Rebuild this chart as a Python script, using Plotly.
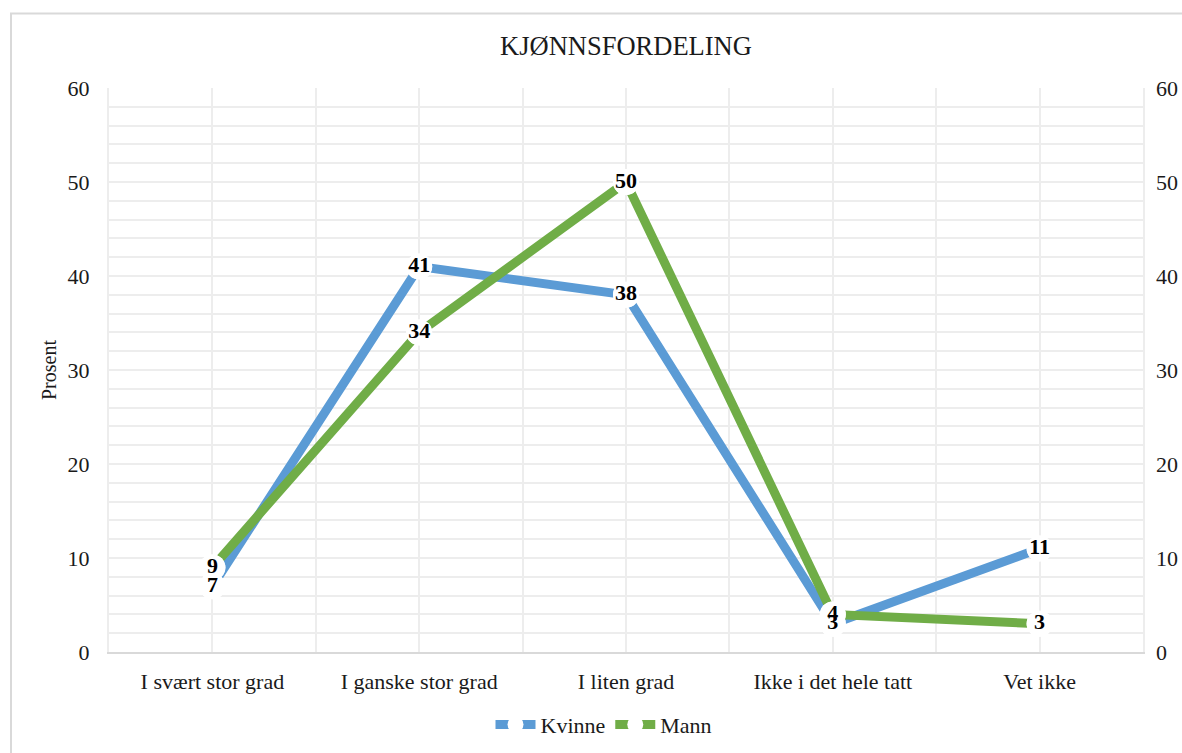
import plotly.graph_objects as go

categories = ["I svært stor grad", "I ganske stor grad", "I liten grad", "Ikke i det hele tatt", "Vet ikke"]
kvinne = [7, 41, 38, 3, 11]
mann = [9, 34, 50, 4, 3]
y_ticks = [0, 10, 20, 30, 40, 50, 60]

BLUE = "#5B9BD5"
GREEN = "#70AD47"
GRID = "#EDEDED"
FONT = "Liberation Serif, Times New Roman, serif"
TXT = "#1a1a1a"

S = 1182 / 1190  # observed capture scale
W, H = 1190, 758
def px(v):
    return v / S
L = px(108)
T = px(87)
R = W - px(1142)
B = H - px(654)
PW, PH = W - L - R, H - T - B

x = list(range(len(categories)))

fig = go.Figure()

# lines (with legend)
for name, vals, col in [("Kvinne", kvinne, BLUE), ("Mann", mann, GREEN)]:
    fig.add_trace(go.Scatter(
        x=x, y=vals, name=name, mode="lines+markers",
        line=dict(color=col, width=9),
        marker=dict(size=26, color="white", line=dict(width=0)),
        hoverinfo="skip",
    ))

# white label backgrounds drawn on top of all lines
for vals in [kvinne, mann]:
    fig.add_trace(go.Scatter(
        x=x, y=vals, mode="markers", showlegend=False,
        marker=dict(size=26, color="white", line=dict(width=0)),
        hoverinfo="skip",
    ))

# labels drawn last
for vals in [kvinne, mann]:
    fig.add_trace(go.Scatter(
        x=x, y=vals, mode="text", showlegend=False,
        text=[str(v) for v in vals], textposition="middle center",
        textfont=dict(family=FONT, size=22, color="black", weight="bold"),
        hoverinfo="skip",
    ))

# invisible trace on right axis
fig.add_trace(go.Scatter(x=x, y=kvinne, yaxis="y2", mode="lines",
                         line=dict(width=0), showlegend=False, hoverinfo="skip", opacity=0))

fig.update_layout(
    width=W, height=H,
    margin=dict(l=L, r=R, t=T, b=B),
    paper_bgcolor="white", plot_bgcolor="white",
    font=dict(family=FONT, size=22, color=TXT),
    title=dict(text="KJØNNSFORDELING", x=0.5, xref="paper", xanchor="center",
               y=1 - px(45) / H, yref="container", yanchor="middle",
               font=dict(family=FONT, size=26.5, color=TXT)),
    showlegend=True,
    legend=dict(orientation="h", x=(px(603) - L) / PW, xanchor="center",
                y=-(px(727) - px(654)) / PH, yanchor="middle", itemwidth=40,
                font=dict(family=FONT, size=22, color=TXT), bgcolor="rgba(0,0,0,0)"),
    xaxis=dict(
        range=[-0.5, 4.5], tickmode="array", tickvals=x, ticktext=categories,
        showgrid=True, gridcolor=GRID, gridwidth=2,
        minor=dict(tickmode="linear", tick0=-0.5, dtick=0.5, showgrid=True, gridcolor=GRID, gridwidth=2),
        showline=True, linecolor="#D9D9D9", linewidth=2,
        ticks="", ticklabelstandoff=9, zeroline=False,
        tickfont=dict(family=FONT, size=22, color=TXT),
    ),
    yaxis=dict(
        range=[0, 60], tickmode="array", tickvals=y_ticks,
        showgrid=True, gridcolor=GRID, gridwidth=2,
        minor=dict(dtick=2, showgrid=True, gridcolor=GRID, gridwidth=2),
        showline=True, linecolor=GRID, linewidth=2, mirror=True,
        ticks="", ticklabelstandoff=13, zeroline=False,
        title=dict(text="Prosent", font=dict(family=FONT, size=20, color=TXT), standoff=6),
        tickfont=dict(family=FONT, size=22, color=TXT),
    ),
    yaxis2=dict(
        range=[0, 60], tickmode="array", tickvals=y_ticks, overlaying="y", side="right",
        showgrid=False, zeroline=False, ticks="", ticklabelstandoff=12,
        tickfont=dict(family=FONT, size=22, color=TXT),
    ),
    shapes=[dict(type="rect", xref="paper", yref="paper",
                 x0=(px(10) - L) / PW, x1=(px(1200) - L) / PW,
                 y0=-(px(780) - px(654)) / PH, y1=(px(654) - px(12)) / PH,
                 line=dict(color="#D9D9D9", width=2), fillcolor="rgba(0,0,0,0)", layer="below")],
)

fig.write_html("out.html", config={"displayModeBar": False},
               post_script="document.body.style.margin='0';document.body.style.overflow='hidden';")
